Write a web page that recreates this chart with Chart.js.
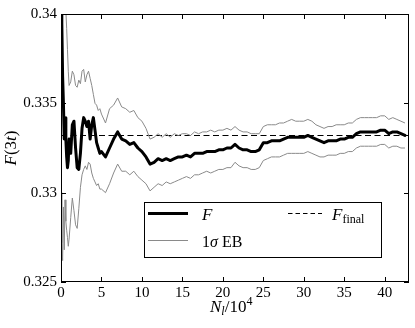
<!DOCTYPE html>
<html>
<head>
<meta charset="utf-8">
<script src="https://cdn.jsdelivr.net/npm/chart.js@4"></script>
<style>
html, body { margin: 0; padding: 0; background: #fff; }
</style>
</head>
<body>
<canvas id="graph" width="415" height="328"></canvas>
<script>
// N_l / 10^4
const nVals = [
  0, 0.1, 0.2, 0.3, 0.4, 0.5, 0.6, 0.7, 0.8, 0.9, 1.0,
  1.2, 1.4, 1.6, 1.8, 2.0, 2.2, 2.4, 2.6, 2.8, 3.0, 3.2, 3.4, 3.6, 3.8, 4.0, 4.2, 4.4, 4.6, 4.8, 5.0,
  5.5, 6, 6.5, 7, 7.5, 8, 8.5, 9, 9.5, 10, 10.5, 11, 11.5, 12, 12.5, 13, 13.5, 14, 14.5, 15,
  15.5, 16, 16.5, 17, 17.5, 18, 18.5, 19, 19.5, 20, 20.5, 21, 21.5, 22, 22.5, 23, 23.5, 24, 24.5, 25,
  25.5, 26, 26.5, 27, 27.5, 28, 28.5, 29, 29.5, 30, 30.5, 31, 31.5, 32, 32.5, 33, 33.5, 34, 34.5, 35,
  35.5, 36, 36.5, 37, 37.5, 38, 38.5, 39, 39.5, 40, 40.5, 41, 41.5, 42, 42.5
];

// F(3t)
const fVals = [
  0.3420, 0.3395, 0.3365, 0.3350, 0.3330, 0.3342, 0.3330, 0.3320, 0.3314, 0.3318, 0.3330,
  0.3322, 0.3338, 0.3340, 0.3325, 0.3314, 0.3313, 0.3322, 0.3336, 0.3342, 0.3340, 0.3337, 0.3340, 0.3330, 0.3338, 0.3342, 0.3335, 0.3328, 0.3325, 0.3322, 0.3323,
  0.3320, 0.3325, 0.3330, 0.3334, 0.3330, 0.3329, 0.3327, 0.3328, 0.3325, 0.3323, 0.3320, 0.3316, 0.3317, 0.3319, 0.3318, 0.3319, 0.3318, 0.3319, 0.3320, 0.3320,
  0.3321, 0.3320, 0.3322, 0.3322, 0.3322, 0.3323, 0.3323, 0.3323, 0.3324, 0.3324, 0.3325, 0.3325, 0.3327, 0.3325, 0.3324, 0.3324, 0.3323, 0.3323, 0.3324, 0.3328,
  0.3328, 0.3329, 0.3329, 0.3329, 0.3330, 0.3331, 0.3331, 0.3331, 0.3331, 0.3331, 0.3332, 0.3331, 0.3330, 0.3329, 0.3328, 0.3329, 0.3329, 0.3329, 0.3330, 0.3330,
  0.3331, 0.3331, 0.3333, 0.3334, 0.3334, 0.3334, 0.3334, 0.3334, 0.3335, 0.3335, 0.3333, 0.3334, 0.3334, 0.3333, 0.3332
];

// 1 sigma error band, upper and lower
const upperVals = [
  0.3450, 0.3445, 0.3436, 0.3428, 0.3418, 0.3410, 0.3402, 0.3392, 0.3380, 0.3368, 0.3360,
  0.3362, 0.3368, 0.3366, 0.3360, 0.3359, 0.3363, 0.3361, 0.3368, 0.3369, 0.3362, 0.3366, 0.3368, 0.3364, 0.3360, 0.3355, 0.3350, 0.3349, 0.3346, 0.3347, 0.3344,
  0.3339, 0.3347, 0.3349, 0.3353, 0.3348, 0.3347, 0.3345, 0.3346, 0.3342, 0.3340, 0.3336, 0.3330, 0.3331, 0.3333, 0.3331, 0.3333, 0.3331, 0.3333, 0.3332, 0.3333,
  0.3333, 0.3332, 0.3334, 0.3333, 0.3334, 0.3334, 0.3335, 0.3334, 0.3335, 0.3335, 0.3336, 0.3335, 0.3337, 0.3335, 0.3334, 0.3334, 0.3333, 0.3333, 0.3333, 0.3337,
  0.3338, 0.3338, 0.3338, 0.3339, 0.3339, 0.3340, 0.3341, 0.3340, 0.3340, 0.3340, 0.3341, 0.3340, 0.3338, 0.3337, 0.3336, 0.3337, 0.3337, 0.3338, 0.3338, 0.3338,
  0.3339, 0.3339, 0.3341, 0.3342, 0.3342, 0.3342, 0.3342, 0.3342, 0.3343, 0.3343, 0.3341, 0.3342, 0.3341, 0.3340, 0.3339
];
const lowerVals = [
  0.3300, 0.3272, 0.3262, 0.3292, 0.3268, 0.3296, 0.3284, 0.3279, 0.3275, 0.3270, 0.3274,
  0.3286, 0.3297, 0.3290, 0.3282, 0.3280, 0.3291, 0.3303, 0.3310, 0.3313, 0.3315, 0.3313, 0.3317, 0.3316, 0.3311, 0.3308, 0.3306, 0.3304, 0.3305, 0.3302, 0.3302,
  0.3300, 0.3305, 0.3311, 0.3316, 0.3312, 0.3312, 0.3310, 0.3312, 0.3309, 0.3307, 0.3305, 0.3301, 0.3303, 0.3305, 0.3304, 0.3306, 0.3305, 0.3306, 0.3307, 0.3308,
  0.3309, 0.3308, 0.3310, 0.3310, 0.3311, 0.3312, 0.3311, 0.3312, 0.3313, 0.3313, 0.3314, 0.3314, 0.3317, 0.3315, 0.3314, 0.3314, 0.3313, 0.3313, 0.3314, 0.3318,
  0.3319, 0.3320, 0.3320, 0.3320, 0.3321, 0.3322, 0.3322, 0.3322, 0.3322, 0.3322, 0.3323, 0.3322, 0.3321, 0.3320, 0.3320, 0.3321, 0.3321, 0.3321, 0.3322, 0.3322,
  0.3323, 0.3323, 0.3325, 0.3326, 0.3326, 0.3326, 0.3326, 0.3326, 0.3327, 0.3327, 0.3325, 0.3326, 0.3326, 0.3325, 0.3325
];

const fFinal = 0.3332;
const xRange = [0, 43];
const xTicks = [0, 5, 10, 15, 20, 25, 30, 35, 40];
const yTicks = [0.325, 0.33, 0.335, 0.34];
const yTickLabels = ["0.325", "0.33", "0.335", "0.34"];

const serif = "'Liberation Serif', 'DejaVu Serif', serif";
const gray = "#8a8a8a";

function pts(ys) {
  return nVals.map((n, i) => ({ x: n, y: ys[i] }));
}

// draw a run of text pieces: [text, font, dy]
function drawPieces(ctx, pieces, x, y) {
  let cx = x;
  for (const p of pieces) {
    ctx.font = p[1];
    ctx.fillText(p[0], cx, y + (p[2] || 0));
    cx += ctx.measureText(p[0]).width;
  }
  return cx;
}
function piecesWidth(ctx, pieces) {
  let w = 0;
  for (const p of pieces) {
    ctx.font = p[1];
    w += ctx.measureText(p[0]).width;
  }
  return w;
}

const framePlugin = {
  id: "frame",
  afterDatasetsDraw(chart) {
    const ctx = chart.ctx;
    const a = chart.chartArea;
    const xs = chart.scales.x, ys = chart.scales.y;
    ctx.save();
    ctx.strokeStyle = "#000";
    ctx.lineWidth = 1;
    ctx.strokeRect(a.left + 0.5, a.top + 0.5, a.right - a.left - 1, a.bottom - a.top - 1);

    // inward ticks on all four sides
    ctx.beginPath();
    for (const v of xTicks) {
      const px = Math.round(xs.getPixelForValue(v)) + 0.5;
      ctx.moveTo(px, a.bottom); ctx.lineTo(px, a.bottom - 5);
      ctx.moveTo(px, a.top); ctx.lineTo(px, a.top + 5);
    }
    for (const v of yTicks) {
      const py = Math.round(ys.getPixelForValue(v)) + 0.5;
      ctx.moveTo(a.left, py); ctx.lineTo(a.left + 5, py);
      ctx.moveTo(a.right, py); ctx.lineTo(a.right - 5, py);
    }
    ctx.stroke();

    // legend box
    const lx = 144, ly = 202, lw = 237, lh = 55;
    ctx.fillStyle = "#fff";
    ctx.fillRect(lx, ly, lw, lh);
    ctx.strokeRect(lx + 0.5, ly + 0.5, lw, lh);

    const r1 = ly + 11.5, r2 = ly + 38.5;
    ctx.beginPath();
    ctx.lineWidth = 3;
    ctx.moveTo(lx + 4, r1); ctx.lineTo(lx + 44, r1);
    ctx.stroke();

    ctx.beginPath();
    ctx.lineWidth = 1.2;
    ctx.setLineDash([4.5, 3]);
    ctx.moveTo(lx + 144, r1); ctx.lineTo(lx + 178, r1);
    ctx.stroke();
    ctx.setLineDash([]);

    ctx.beginPath();
    ctx.strokeStyle = gray;
    ctx.lineWidth = 1;
    ctx.moveTo(lx + 4, r2); ctx.lineTo(lx + 44, r2);
    ctx.stroke();

    ctx.fillStyle = "#000";
    ctx.textBaseline = "alphabetic";
    ctx.textAlign = "left";
    drawPieces(ctx, [["F", "italic 17px " + serif]], lx + 58, r1 + 6);
    drawPieces(ctx, [["F", "italic 17px " + serif], ["final", "12px " + serif, 3]], lx + 188, r1 + 6);
    drawPieces(ctx, [["1", "16px " + serif], ["σ", "italic 16px " + serif], [" EB", "16px " + serif]], lx + 58, r2 + 6);

    // axis titles
    drawPieces(ctx, [["N", "italic 17px " + serif], ["l", "italic 12px " + serif, 3], ["/10", "17px " + serif], ["4", "12px " + serif, -7]], 210, 312);

    const yt = [["F", "italic 17px " + serif], ["(3", "17px " + serif], ["t", "italic 17px " + serif], [")", "17px " + serif]];
    ctx.translate(16, (a.top + a.bottom) / 2);
    ctx.rotate(-Math.PI / 2);
    drawPieces(ctx, yt, -piecesWidth(ctx, yt) / 2, 0);
    ctx.restore();
  }
};

const ctx = document.getElementById("graph").getContext("2d");

new Chart(ctx, {
  type: "line",
  data: {
    datasets: [
      { label: "1σ EB", data: pts(upperVals), borderColor: gray, borderWidth: 1, pointRadius: 0, tension: 0, clip: 0, borderJoinStyle: "round" },
      { label: "1σ EB lower", data: pts(lowerVals), borderColor: gray, borderWidth: 1, pointRadius: 0, tension: 0, clip: 0, borderJoinStyle: "round" },
      { label: "F_final", data: [{ x: xRange[0], y: fFinal }, { x: xRange[1], y: fFinal }], borderColor: "#000", borderWidth: 1.2, borderDash: [6, 3.5], pointRadius: 0, clip: 0 },
      { label: "F", data: pts(fVals), borderColor: "#000", borderWidth: 3, pointRadius: 0, tension: 0, clip: 0, borderJoinStyle: "round", borderCapStyle: "round" }
    ]
  },
  options: {
    responsive: false,
    animation: false,
    devicePixelRatio: 1,
    layout: { padding: { left: 0, right: 6, top: 14, bottom: 0 } },
    plugins: { legend: { display: false }, tooltip: { enabled: false } },
    scales: {
      x: {
        type: "linear",
        min: xRange[0],
        max: xRange[1],
        afterBuildTicks: s => { s.ticks = xTicks.map(v => ({ value: v })); },
        afterFit: s => { s.height = 46; },
        grid: { display: false, drawTicks: false },
        border: { display: false },
        ticks: { color: "#000", padding: 2, maxRotation: 0, font: { family: serif, size: 15 }, callback: v => String(v) }
      },
      y: {
        type: "linear",
        min: yTicks[0],
        max: yTicks[yTicks.length - 1],
        afterBuildTicks: s => { s.ticks = yTicks.map(v => ({ value: v })); },
        afterFit: s => { s.width = 61; },
        grid: { display: false, drawTicks: false },
        border: { display: false },
        ticks: { color: "#000", padding: 4, font: { family: serif, size: 15 }, callback: (v, i) => yTickLabels[i] }
      }
    }
  },
  plugins: [framePlugin]
});
</script>
</body>
</html>
